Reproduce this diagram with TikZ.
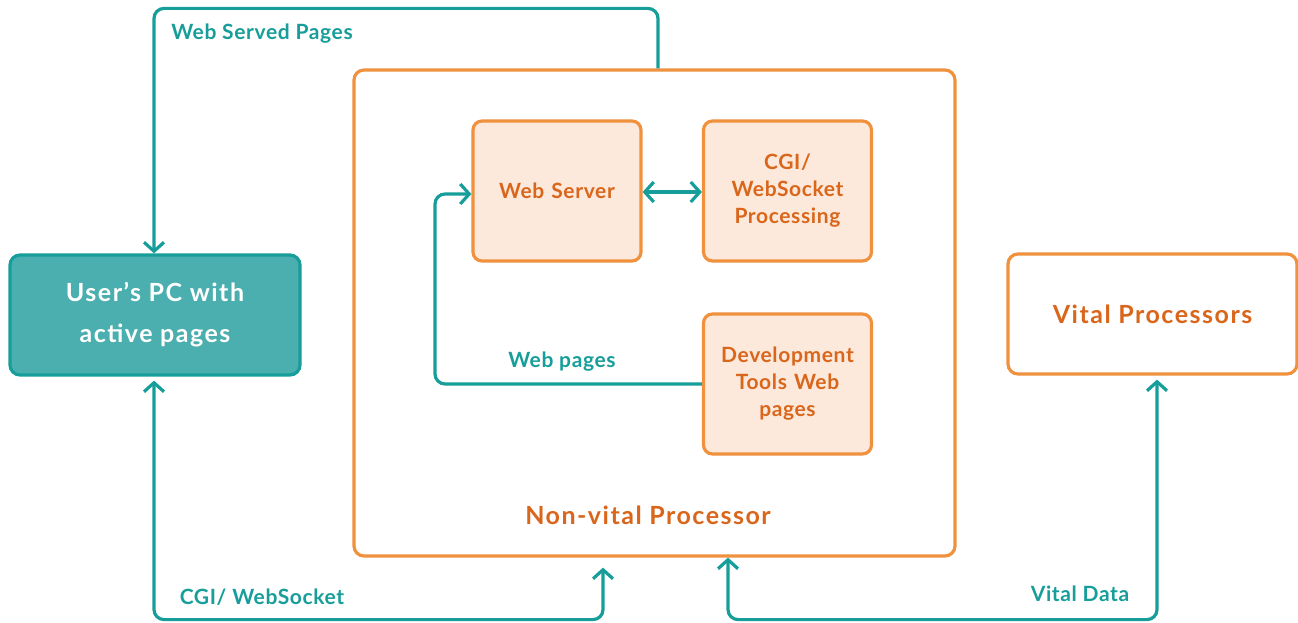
\documentclass[tikz,border=0pt]{standalone}
\usepackage{fontspec}
\setmainfont{Lato}
\newfontfamily\smallfam[LetterSpace=3]{Lato}
\newfontfamily\bigfam[LetterSpace=6]{Lato}
\usetikzlibrary{arrows.meta,calc}
\definecolor{teal1}{HTML}{179E9A}
\definecolor{tealfill}{HTML}{4AAFAE}
\definecolor{orline}{HTML}{F0913E}
\definecolor{ortext}{HTML}{D9661B}
\definecolor{orfill}{HTML}{FDE9DB}
\tikzset{
  conn/.style={draw=teal1, line width=3.2pt, rounded corners=10pt},
  >={Straight Barb[length=9pt,width=20pt]},
  inbox/.style={draw=orline, fill=orfill, line width=3.2pt, rounded corners=9pt,
    minimum width=166pt, minimum height=140pt, text=ortext, align=center,
    font=\smallfam\fontsize{21}{27}\selectfont\bfseries, inner sep=4pt, text width=160pt},
  bigbox/.style={line width=3.2pt, rounded corners=10pt, align=center,
    minimum width=290pt, minimum height=120pt, font=\bigfam\fontsize{25}{41}\selectfont\bfseries},
  lbl/.style={text=teal1, font=\smallfam\fontsize{21}{24}\selectfont\bfseries, inner sep=0pt},
}
\begin{document}
\begin{tikzpicture}[x=1pt,y=-1pt]
\useasboundingbox (0,0) rectangle (1298,623);
% main boxes
\node[bigbox, draw=teal1, fill=tealfill, text=white] (pc) at (155,315) {User’s PC with\\active pages};
\node[draw=orline, line width=3.2pt, rounded corners=10pt, minimum width=601pt, minimum height=486pt] (nv) at (654.5,313) {};
\node[bigbox, draw=orline, fill=white, text=ortext, minimum width=289pt] (vp) at (1152.5,314) {Vital Processors};
\node[text=ortext, font=\bigfam\fontsize{25}{28}\selectfont\bfseries] (nvl) at (648,515) {Non-vital Processor};
% inner boxes
\node[inbox] (ws) at (557,191) {Web Server};
\node[inbox, minimum width=167pt] (cgi) at (787.5,191) {CGI/\\WebSocket\\Processing};
\node[inbox, minimum width=167pt] (dev) at (787.5,384) {Development\\Tools Web\\pages};
% connectors
\draw[conn,->] ($(nv.north)+(3.5,0)$) |- ($(pc.north)+(-1,-245)$) -- ($(pc.north)+(-1,0)$);
\draw[conn,<->] ($(pc.south)+(-1,4)$) |- ($(nv.south)+(-51.5,62)$) -- ($(nv.south)+(-51.5,10)$);
\draw[conn,<->] ($(nv.south)+(73.5,0)$) |- ($(vp.south)+(4.5,244)$) -- ($(vp.south)+(4.5,4)$);
\coordinate (wpc) at (435,300);
\draw[conn,->] (dev.west) -| (wpc) |- ($(ws.west)+(0,3)$);
\draw[conn,<->] ($(ws.east)+(0,1)$) -- ($(cgi.west)+(0,1)$);
% labels
\node[lbl] (l1) at (262,34) {Web Served Pages};
\node[lbl] (l2) at (262,597) {CGI/ WebSocket};
\node[lbl] (l3) at (1080,594) {Vital Data};
\node[lbl] (l4) at (562,362) {Web pages};
\end{tikzpicture}
\end{document}
